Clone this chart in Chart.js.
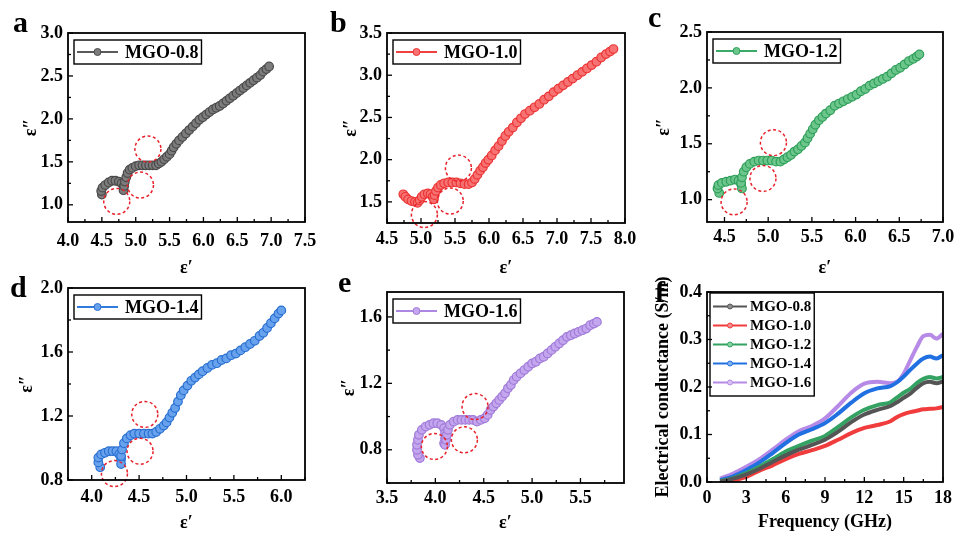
<!DOCTYPE html>
<html>
<head>
<meta charset="utf-8">
<script src="https://cdn.jsdelivr.net/npm/chart.js@4.4.1/dist/chart.umd.min.js"></script>
<style>
  html, body { margin: 0; padding: 0; background: #fff; width: 954px; height: 535px; overflow: hidden; }
  canvas { position: absolute; left: 0; top: 0; }
</style>
</head>
<body>
<canvas id="pa" width="1000" height="560"></canvas>
<canvas id="pb" width="1000" height="560"></canvas>
<canvas id="pc" width="1000" height="560"></canvas>
<canvas id="pd" width="1000" height="560"></canvas>
<canvas id="pe" width="1000" height="560"></canvas>
<canvas id="pf" width="1000" height="560"></canvas>
<script>
// ---- data ----
// a: MGO-0.8
var epsRealA = [4.50,4.49,4.51,4.55,4.60,4.65,4.70,4.75,4.79,4.82,4.82,4.83,4.84,4.86,4.88,4.91,4.95,5.00,5.05,5.10,5.15,5.20,5.25,5.30,5.34,5.38,5.42,5.46,5.50,5.53,5.56,5.60,5.64,5.69,5.74,5.79,5.84,5.89,5.94,5.99,6.04,6.09,6.14,6.19,6.24,6.29,6.34,6.39,6.44,6.49,6.54,6.59,6.64,6.69,6.74,6.79,6.84,6.88,6.93,6.97];
var epsImagA = [1.12,1.16,1.20,1.23,1.26,1.28,1.28,1.27,1.25,1.21,1.17,1.22,1.27,1.32,1.37,1.41,1.43,1.45,1.46,1.46,1.46,1.46,1.46,1.46,1.48,1.50,1.53,1.56,1.59,1.63,1.67,1.71,1.75,1.79,1.83,1.87,1.91,1.95,1.99,2.02,2.05,2.08,2.11,2.13,2.15,2.18,2.21,2.24,2.27,2.30,2.33,2.36,2.39,2.42,2.45,2.48,2.51,2.55,2.58,2.61];
var circlesA = [[4.72,1.04],[5.07,1.23],[5.18,1.65]];
var xTicksA = [4.0,4.5,5.0,5.5,6.0,6.5,7.0,7.5];
var yTicksA = [1.0,1.5,2.0,2.5,3.0];

// b: MGO-1.0
var epsRealB = [4.74,4.77,4.81,4.86,4.91,4.95,4.98,5.01,5.05,5.10,5.14,5.17,5.19,5.20,5.22,5.25,5.29,5.34,5.40,5.46,5.52,5.58,5.64,5.70,5.75,5.79,5.83,5.87,5.91,5.95,5.99,6.04,6.09,6.14,6.19,6.24,6.29,6.35,6.41,6.47,6.53,6.60,6.67,6.74,6.81,6.88,6.95,7.02,7.09,7.16,7.23,7.30,7.37,7.44,7.51,7.58,7.65,7.72,7.78,7.83];
var epsImagB = [1.59,1.56,1.53,1.51,1.50,1.49,1.52,1.56,1.59,1.60,1.59,1.56,1.53,1.58,1.63,1.67,1.70,1.72,1.73,1.73,1.73,1.72,1.71,1.71,1.73,1.77,1.82,1.87,1.91,1.96,2.00,2.05,2.11,2.16,2.22,2.28,2.33,2.38,2.44,2.49,2.54,2.58,2.62,2.66,2.71,2.75,2.80,2.84,2.88,2.92,2.96,3.00,3.04,3.08,3.12,3.16,3.21,3.25,3.28,3.31];
var circlesB = [[5.05,1.35],[5.43,1.51],[5.55,1.90]];
var xTicksB = [4.5,5.0,5.5,6.0,6.5,7.0,7.5,8.0];
var yTicksB = [1.5,2.0,2.5,3.0,3.5];

// c: MGO-1.2
var epsRealC = [4.44,4.42,4.43,4.47,4.52,4.57,4.62,4.66,4.69,4.70,4.69,4.70,4.72,4.75,4.79,4.84,4.89,4.94,4.99,5.04,5.09,5.14,5.18,5.22,5.26,5.30,5.34,5.38,5.42,5.45,5.48,5.51,5.54,5.58,5.62,5.66,5.71,5.76,5.81,5.86,5.91,5.96,6.01,6.06,6.11,6.16,6.21,6.26,6.31,6.36,6.41,6.46,6.51,6.56,6.61,6.66,6.70,6.73];
var epsImagC = [1.06,1.10,1.13,1.15,1.16,1.17,1.18,1.17,1.14,1.10,1.15,1.20,1.25,1.29,1.32,1.34,1.35,1.35,1.35,1.35,1.34,1.34,1.36,1.38,1.40,1.43,1.45,1.48,1.51,1.55,1.59,1.63,1.67,1.71,1.74,1.77,1.80,1.84,1.86,1.88,1.90,1.92,1.94,1.97,1.99,2.02,2.04,2.06,2.08,2.10,2.13,2.16,2.18,2.21,2.24,2.26,2.28,2.30];
var circlesC = [[4.61,0.98],[4.94,1.19],[5.06,1.51]];
var xTicksC = [4.5,5.0,5.5,6.0,6.5,7.0];
var yTicksC = [1.0,1.5,2.0,2.5];

// d: MGO-1.4
var epsRealD = [4.09,4.07,4.07,4.10,4.14,4.18,4.22,4.26,4.29,4.31,4.31,4.31,4.32,4.34,4.37,4.41,4.45,4.50,4.55,4.60,4.64,4.68,4.72,4.76,4.79,4.82,4.85,4.88,4.91,4.94,4.97,5.01,5.05,5.09,5.13,5.17,5.22,5.27,5.32,5.37,5.42,5.47,5.52,5.57,5.62,5.67,5.72,5.77,5.81,5.85,5.89,5.93,5.97,6.00];
var epsImagD = [0.88,0.91,0.94,0.96,0.97,0.98,0.98,0.98,0.96,0.93,0.90,0.95,0.99,1.03,1.06,1.08,1.09,1.09,1.09,1.09,1.09,1.10,1.12,1.14,1.16,1.19,1.22,1.25,1.29,1.33,1.36,1.39,1.42,1.44,1.46,1.48,1.50,1.52,1.53,1.55,1.56,1.58,1.59,1.61,1.63,1.65,1.67,1.70,1.72,1.75,1.78,1.81,1.84,1.86];
var circlesD = [[4.24,0.84],[4.51,0.98],[4.56,1.21]];
var xTicksD = [4.0,4.5,5.0,5.5,6.0];
var yTicksD = [0.8,1.2,1.6,2.0];

// e: MGO-1.6
var epsRealE = [3.84,3.82,3.81,3.81,3.82,3.83,3.86,3.90,3.94,3.98,4.02,4.06,4.09,4.10,4.10,4.09,4.10,4.11,4.12,4.13,4.15,4.19,4.23,4.27,4.31,4.35,4.39,4.43,4.47,4.51,4.54,4.57,4.60,4.63,4.66,4.69,4.72,4.75,4.78,4.81,4.84,4.88,4.92,4.96,5.00,5.04,5.08,5.12,5.16,5.20,5.24,5.28,5.32,5.36,5.40,5.44,5.48,5.52,5.56,5.60,5.64,5.67];
var epsImagE = [0.75,0.77,0.80,0.83,0.86,0.89,0.92,0.94,0.95,0.96,0.96,0.95,0.93,0.90,0.87,0.84,0.83,0.86,0.89,0.92,0.95,0.97,0.98,0.98,0.98,0.98,0.98,0.97,0.98,0.99,1.01,1.04,1.06,1.08,1.10,1.12,1.14,1.17,1.19,1.22,1.24,1.26,1.28,1.30,1.32,1.33,1.35,1.36,1.38,1.40,1.42,1.44,1.46,1.48,1.49,1.50,1.51,1.52,1.53,1.55,1.56,1.57];
var circlesE = [[3.99,0.82],[4.30,0.86],[4.41,1.06]];
var xTicksE = [3.5,4.0,4.5,5.0,5.5];
var yTicksE = [0.8,1.2,1.6];

// f: electrical conductance vs frequency
var freqGHz = [1,2,3,4,5,6,7,8,9,10,11,12,13,14,14.5,15,15.5,16,16.5,17,17.5,18];
var condMGO08 = [0.001,0.007,0.016,0.028,0.042,0.056,0.068,0.078,0.089,0.106,0.126,0.142,0.152,0.160,0.168,0.177,0.186,0.198,0.208,0.211,0.208,0.212];
var condMGO10 = [0.000,0.004,0.011,0.024,0.035,0.048,0.059,0.067,0.076,0.089,0.103,0.114,0.120,0.128,0.137,0.143,0.147,0.150,0.153,0.154,0.155,0.158];
var condMGO12 = [0.002,0.008,0.019,0.032,0.048,0.064,0.076,0.087,0.097,0.116,0.136,0.152,0.162,0.168,0.178,0.188,0.196,0.208,0.217,0.221,0.218,0.221];
var condMGO14 = [0.004,0.012,0.025,0.041,0.061,0.082,0.100,0.111,0.124,0.144,0.167,0.187,0.197,0.202,0.210,0.222,0.236,0.249,0.260,0.264,0.260,0.267];
var condMGO16 = [0.007,0.018,0.032,0.048,0.068,0.089,0.107,0.118,0.134,0.160,0.188,0.207,0.211,0.208,0.211,0.228,0.256,0.284,0.307,0.310,0.302,0.312];
var xTicksF = [0,3,6,9,12,15,18];
var yTicksF = [0.0,0.1,0.2,0.3,0.4];

// ---- helpers ----
var CW = 1000, CH = 560;
var SERIF = '"Liberation Serif", "Times New Roman", serif';

function pts(xs, ys) {
  return xs.map(function(x, i) { return {x: x, y: ys[i]}; });
}

function drawInTicks(ctx, scale, horizontal, ca) {
  var vals = scale.ticks.map(function(t) { return t.value; });
  var step = vals[1] - vals[0];
  var marks = vals.map(function(v) { return [v, 5]; });
  for (var k = -1; k < vals.length; k++) {
    var m = vals[0] + (k + 0.5) * step;
    if (m >= scale.min - 1e-9 && m <= scale.max + 1e-9) marks.push([m, 3]);
  }
  ctx.lineWidth = 1.3;
  marks.forEach(function(mk) {
    var p = scale.getPixelForValue(mk[0]);
    ctx.beginPath();
    if (horizontal) { ctx.moveTo(p, ca.bottom); ctx.lineTo(p, ca.bottom - mk[1]); }
    else { ctx.moveTo(ca.left, p); ctx.lineTo(ca.left + mk[1], p); }
    ctx.stroke();
  });
}

var panelDecor = {
  id: 'panelDecor',
  afterDatasetsDraw: function(chart, args, o) {
    var ctx = chart.ctx, ca = chart.chartArea;
    var xs = chart.scales.x, ys = chart.scales.y;
    ctx.save();
    if (o.circles) {
      ctx.strokeStyle = '#e8202a';
      ctx.lineWidth = 1.5;
      ctx.setLineDash([3, 2.5]);
      o.circles.forEach(function(c) {
        ctx.beginPath();
        ctx.arc(xs.getPixelForValue(c[0]), ys.getPixelForValue(c[1]), 13, 0, Math.PI * 2);
        ctx.stroke();
      });
      ctx.setLineDash([]);
    }
    ctx.strokeStyle = '#000';
    ctx.lineWidth = 1.8;
    ctx.strokeRect(ca.left, ca.top, ca.right - ca.left, ca.bottom - ca.top);
    drawInTicks(ctx, xs, true, ca);
    drawInTicks(ctx, ys, false, ca);

    // framed legend inside the plot
    var lg = o.legend;
    var sets = chart.data.datasets;
    ctx.font = 'bold ' + lg.size + 'px ' + SERIF;
    var tw = Math.max.apply(null, sets.map(function(d) { return ctx.measureText(d.label).width; }));
    var bx = ca.left + lg.dx, by = ca.top + lg.dy;
    var bw = lg.pad + lg.line + lg.gap + tw + lg.pad;
    var bh = sets.length * lg.row + 2 * lg.padV;
    ctx.strokeStyle = '#000';
    ctx.lineWidth = 1.4;
    ctx.strokeRect(bx, by, bw, bh);
    sets.forEach(function(d, i) {
      var cy = by + lg.padV + lg.row * (i + 0.5);
      var x1 = bx + lg.pad;
      ctx.strokeStyle = d.borderColor;
      ctx.lineWidth = 2;
      ctx.beginPath(); ctx.moveTo(x1, cy); ctx.lineTo(x1 + lg.line, cy); ctx.stroke();
      ctx.beginPath();
      ctx.arc(x1 + lg.line / 2, cy, lg.r, 0, Math.PI * 2);
      ctx.fillStyle = d.legendFill || d.borderColor;
      ctx.fill();
      ctx.lineWidth = 1;
      ctx.strokeStyle = d.pointBorderColor || d.borderColor;
      ctx.stroke();
      ctx.fillStyle = '#000';
      ctx.textAlign = 'left';
      ctx.textBaseline = 'middle';
      ctx.fillText(d.label, x1 + lg.line + lg.gap, cy + 1);
    });

    // panel letter
    ctx.font = 'bold 30px ' + SERIF;
    ctx.fillStyle = '#000';
    ctx.textAlign = 'left';
    ctx.textBaseline = 'alphabetic';
    ctx.fillText(o.letter[0], o.letter[1], o.letter[2]);
    ctx.restore();
  }
};

function axis(min, max, ticks, fmt, title, titleSize, fixed, horizontal, pad) {
  var a = {
    type: 'linear', min: min, max: max,
    grid: {display: false, drawTicks: false},
    border: {display: false},
    afterBuildTicks: function(s) { s.ticks = ticks.map(function(v) { return {value: v}; }); },
    ticks: {
      color: '#000', padding: pad, autoSkip: false, maxRotation: 0,
      font: {family: SERIF, size: 18, weight: 'bold'},
      callback: function(v) { return fmt(v); }
    },
    title: {display: true, text: title, color: '#000', padding: 0,
      font: {family: SERIF, size: titleSize, weight: 'bold'}}
  };
  if (horizontal) a.afterFit = function(s) { s.height = fixed; };
  else a.afterFit = function(s) { s.width = fixed; };
  return a;
}

function one(v) { return v.toFixed(1); }
function whole(v) { return String(Math.round(v)); }

function makePanel(id, g, datasets, xA, yA, decor) {
  return new Chart(document.getElementById(id), {
    type: 'scatter',
    data: {datasets: datasets},
    options: {
      responsive: false, animation: false, events: [],
      layout: {padding: {left: g.L - g.yw, top: g.T, right: CW - g.R, bottom: CH - g.B - g.xh}},
      scales: {x: xA, y: yA},
      plugins: {legend: {display: false}, tooltip: {enabled: false}, panelDecor: decor}
    },
    plugins: [panelDecor]
  });
}

function coleCole(label, xs, ys, line, edge, fill) {
  return {
    label: label, data: pts(xs, ys), showLine: true,
    borderColor: line, borderWidth: 6, tension: 0.3,
    pointRadius: 4.3, pointBorderWidth: 1.2,
    pointBorderColor: edge, pointBackgroundColor: fill, legendFill: fill
  };
}

var bigLegend = {dx: 6, dy: 7, size: 18, row: 24, padV: 0, pad: 3, line: 41, gap: 7, r: 3.5};

makePanel('pa', {L: 68, T: 33, R: 305, B: 222, yw: 47, xh: 57},
  [coleCole('MGO-0.8', epsRealA, epsImagA, '#5a5a5a', '#4a4a4a', '#7c7c7c')],
  axis(4.0, 7.5, xTicksA, one, 'ε′', 18, 57, true, 9),
  axis(0.8, 3.0, yTicksA, one, 'ε″', 18, 47, false, 5),
  {circles: circlesA, legend: bigLegend, letter: ['a', 13, 32]});

makePanel('pb', {L: 387, T: 33, R: 625, B: 223, yw: 46, xh: 56},
  [coleCole('MGO-1.0', epsRealB, epsImagB, '#f04040', '#ec3434', '#f77272')],
  axis(4.5, 8.0, xTicksB, one, 'ε′', 18, 56, true, 6),
  axis(1.25, 3.5, yTicksB, one, 'ε″', 18, 46, false, 5),
  {circles: circlesB, legend: bigLegend, letter: ['b', 330, 32]});

makePanel('pc', {L: 707, T: 32, R: 943, B: 222, yw: 53, xh: 57},
  [coleCole('MGO-1.2', epsRealC, epsImagC, '#3aab66', '#2f9f5a', '#6cc68c')],
  axis(4.3, 7.0, xTicksC, one, 'ε′', 18, 57, true, 5),
  axis(0.8, 2.5, yTicksC, one, 'ε″', 18, 53, false, 5),
  {circles: circlesC, legend: bigLegend, letter: ['c', 648, 27]});

makePanel('pd', {L: 68, T: 288, R: 305, B: 480, yw: 51, xh: 54},
  [coleCole('MGO-1.4', epsRealD, epsImagD, '#307bdc', '#2a70d2', '#68a2ec')],
  axis(3.75, 6.25, xTicksD, one, 'ε′', 18, 54, true, 7),
  axis(0.8, 2.0, yTicksD, one, 'ε″', 18, 51, false, 5),
  {circles: circlesD, legend: bigLegend, letter: ['d', 10, 297]});

makePanel('pe', {L: 387, T: 292, R: 624, B: 483, yw: 48, xh: 51},
  [coleCole('MGO-1.6', epsRealE, epsImagE, '#ad88e2', '#a07ad8', '#c4a6ee')],
  axis(3.5, 5.95, xTicksE, one, 'ε′', 18, 51, true, 5),
  axis(0.6, 1.75, yTicksE, one, 'ε″', 18, 48, false, 5),
  {circles: circlesE, legend: bigLegend, letter: ['e', 338, 292]});

function condLine(label, ys, color, fill) {
  return {
    label: label, data: pts(freqGHz, ys), showLine: true,
    borderColor: color, borderWidth: 4, pointRadius: 0,
    cubicInterpolationMode: 'monotone', legendFill: fill
  };
}

makePanel('pf', {L: 707, T: 292, R: 943, B: 482, yw: 54, xh: 51},
  [
    condLine('MGO-0.8', condMGO08, '#555555', '#8e8e8e'),
    condLine('MGO-1.0', condMGO10, '#f03c3c', '#f68c8c'),
    condLine('MGO-1.2', condMGO12, '#33a262', '#86d3a2'),
    condLine('MGO-1.4', condMGO14, '#2070e2', '#82b3f0'),
    condLine('MGO-1.6', condMGO16, '#b68ae6', '#d9c2f4')
  ],
  axis(0, 18, xTicksF, whole, 'Frequency (GHz)', 18, 51, true, 6),
  axis(0, 0.4, yTicksF, one, 'Electrical conductance (S/m)', 18, 54, false, 5),
  {legend: {dx: 3, dy: 1, size: 15, row: 19, padV: 4, pad: 3, line: 34, gap: 3, r: 2.5}, letter: ['f', 655, 302]});
</script>
</body>
</html>
